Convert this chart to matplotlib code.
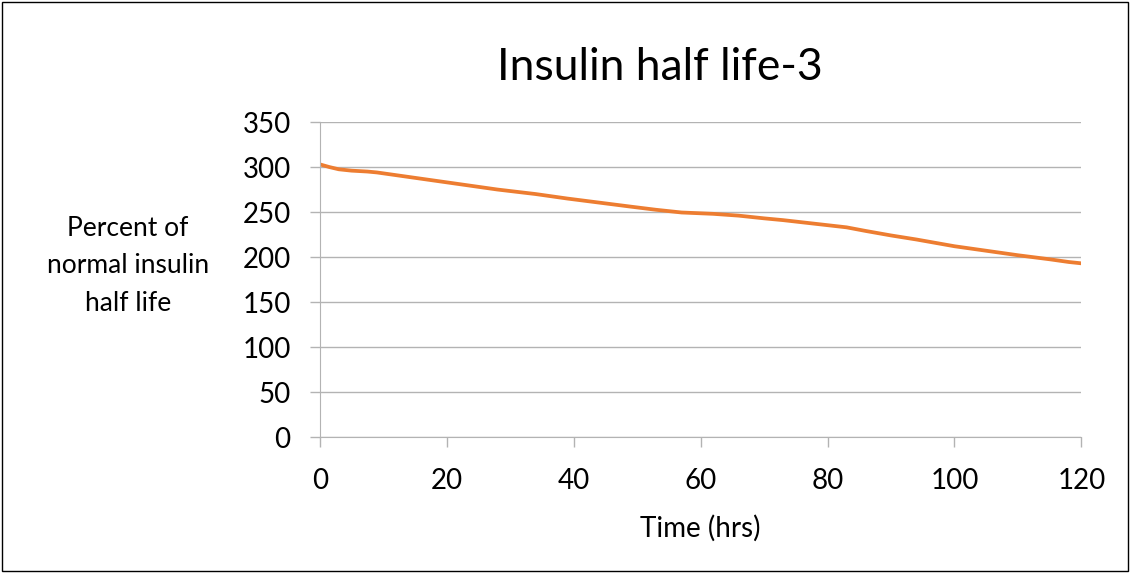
import numpy as np
import matplotlib
matplotlib.use("Agg")
from matplotlib import pyplot as plt
from matplotlib.patches import Rectangle

# data
time_hrs = [0, 1.5, 3, 5, 7.5, 9, 12, 18, 24, 28, 34, 39, 44, 49, 53, 57, 62, 66, 70, 73, 78, 83, 86, 90, 94, 100, 105, 110, 115, 118, 120]
percent = [303, 300, 297.5, 296, 295, 294, 291, 285, 279, 275, 270, 265, 260.5, 256, 252.5, 249.5, 248, 246, 243, 241, 237, 233, 229, 224, 219.5, 212, 207, 202, 197.5, 194.5, 193]
x_ticks = [0, 20, 40, 60, 80, 100, 120]
y_ticks = [0, 50, 100, 150, 200, 250, 300, 350]

plt.rcParams['font.family'] = ['Lato', 'DejaVu Sans']

fig = plt.figure(figsize=(11.3, 5.73), dpi=100)
ax = fig.add_axes([0.283, 0.2373, 0.674, 0.5497])

grid_col = '#b3b3b3'
ax.plot(time_hrs, percent, color='#ED7D31', lw=2.7, solid_capstyle='round')

ax.set_xlim(0, 120)
ax.set_ylim(0, 350)
ax.set_xticks(x_ticks)
ax.set_yticks(y_ticks)
ax.yaxis.grid(True, color=grid_col, lw=1)
ax.set_axisbelow(True)
for s in ['top', 'right']:
    ax.spines[s].set_visible(False)
ax.spines['left'].set_color(grid_col)
ax.spines['bottom'].set_color(grid_col)
ax.tick_params(axis='both', colors=grid_col, length=7, width=1, labelsize=20, labelcolor='black')
ax.tick_params(axis='x', pad=15)
ax.tick_params(axis='y', pad=14)

# title sits a bit left of the plot centre, as in the reference
fig.text(0.584, 0.882, 'Insulin half life-3', ha='center', va='center', fontsize=32)
ax.set_xlabel('Time (hrs)', fontsize=20, labelpad=15)
fig.text(0.113, 0.536, 'Percent of\nnormal insulin\nhalf life', ha='center', va='center',
         fontsize=19, linespacing=1.63)

fig.patches.append(Rectangle((0.002, 0.003), 0.996, 0.994, transform=fig.transFigure,
                             fill=False, edgecolor='black', lw=1))

fig.savefig('out.png', dpi=100)
